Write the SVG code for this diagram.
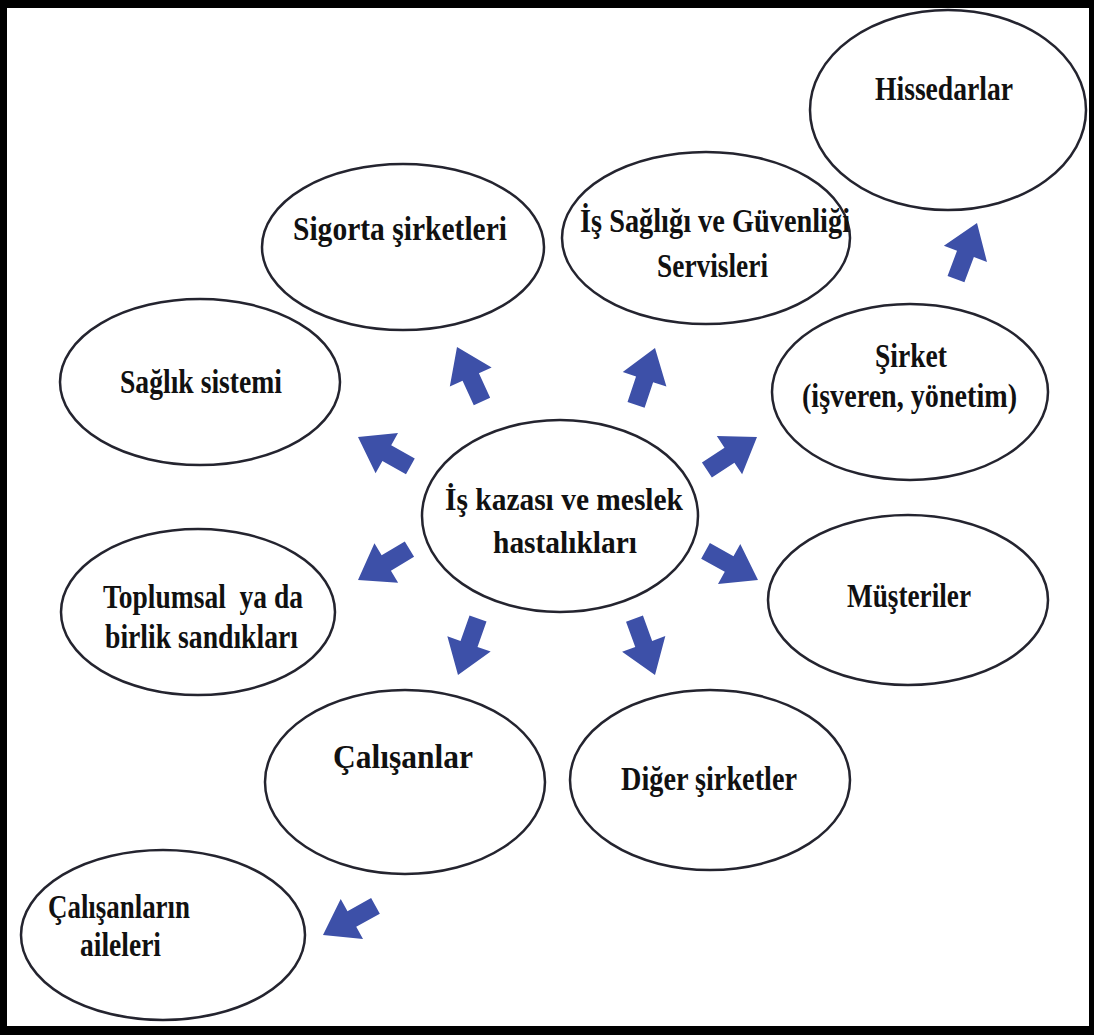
<svg xmlns="http://www.w3.org/2000/svg" xmlns:xlink="http://www.w3.org/1999/xlink" width="1094" height="1035" viewBox="0 0 1094 1035">
  <style>
    .node ellipse { fill: #ffffff; stroke: #24242f; stroke-width: 2.5; }
    .node text { font-family: "Liberation Serif", "Times New Roman", serif; font-weight: bold; font-size: 33px; fill: #111111; }
    .node text.mid { font-size: 31px; }
    .arrow { fill: #3d50a8; }
  </style>
  <defs>
    <!-- block arrow pointing along +x, tip at the origin -->
    <path id="blockArrow" d="M0,0 L-33,-23 L-33,-9 L-60,-9 L-60,9 L-33,9 L-33,23 Z"/>
  </defs>

  <!-- frame -->
  <rect x="0" y="0" width="1094" height="1035" fill="#000000"/>
  <rect x="7" y="8" width="1082" height="1018" fill="#ffffff"/>

  <g id="connectors">
    <use xlink:href="#blockArrow" class="arrow" transform="translate(457,347) rotate(-114.6)"/>
    <use xlink:href="#blockArrow" class="arrow" transform="translate(655,348) rotate(-71.6)"/>
    <use xlink:href="#blockArrow" class="arrow" transform="translate(358,437) rotate(-150.8)"/>
    <use xlink:href="#blockArrow" class="arrow" transform="translate(757,437) rotate(-33.4)"/>
    <use xlink:href="#blockArrow" class="arrow" transform="translate(358,580) rotate(149)"/>
    <use xlink:href="#blockArrow" class="arrow" transform="translate(758,580) rotate(29)"/>
    <use xlink:href="#blockArrow" class="arrow" transform="translate(458,675) rotate(109.5)"/>
    <use xlink:href="#blockArrow" class="arrow" transform="translate(655,675) rotate(70)"/>
    <use xlink:href="#blockArrow" class="arrow" transform="translate(977,223) rotate(-69.5)"/>
    <use xlink:href="#blockArrow" class="arrow" transform="translate(323,935) rotate(151)"/>
  </g>

  <g id="node-hissedarlar" class="node">
    <ellipse cx="948" cy="110" rx="138" ry="100"/>
    <text x="875" y="100" textLength="138" lengthAdjust="spacingAndGlyphs">Hissedarlar</text>
  </g>

  <g id="node-sigorta" class="node">
    <ellipse cx="403" cy="247" rx="141" ry="83"/>
    <text x="293" y="240" textLength="214" lengthAdjust="spacingAndGlyphs">Sigorta şirketleri</text>
  </g>

  <g id="node-isg" class="node">
    <ellipse cx="706" cy="238" rx="144" ry="86"/>
    <text x="580" y="232" textLength="270" lengthAdjust="spacingAndGlyphs">İş Sağlığı ve Güvenliği</text>
    <text x="657" y="277" textLength="111" lengthAdjust="spacingAndGlyphs">Servisleri</text>
  </g>

  <g id="node-saglik" class="node">
    <ellipse cx="200" cy="382" rx="140" ry="83"/>
    <text x="120" y="393" textLength="162" lengthAdjust="spacingAndGlyphs">Sağlık sistemi</text>
  </g>

  <g id="node-sirket" class="node">
    <ellipse cx="910" cy="392" rx="138" ry="88"/>
    <text x="875" y="367" textLength="72" lengthAdjust="spacingAndGlyphs">Şirket</text>
    <text x="802" y="407" textLength="215" lengthAdjust="spacingAndGlyphs">(işveren, yönetim)</text>
  </g>

  <g id="node-merkez" class="node">
    <ellipse cx="560" cy="516" rx="138" ry="96"/>
    <text class="mid" x="445" y="510" textLength="238" lengthAdjust="spacingAndGlyphs">İş kazası ve meslek</text>
    <text class="mid" x="493" y="553" textLength="144" lengthAdjust="spacingAndGlyphs">hastalıkları</text>
  </g>

  <g id="node-toplumsal" class="node">
    <ellipse cx="198" cy="612" rx="137" ry="83"/>
    <text x="103" y="608" textLength="200" lengthAdjust="spacingAndGlyphs" xml:space="preserve">Toplumsal  ya da</text>
    <text x="105" y="648" textLength="193" lengthAdjust="spacingAndGlyphs">birlik sandıkları</text>
  </g>

  <g id="node-musteriler" class="node">
    <ellipse cx="908" cy="600" rx="140" ry="85"/>
    <text x="847" y="607" textLength="124" lengthAdjust="spacingAndGlyphs">Müşteriler</text>
  </g>

  <g id="node-calisanlar" class="node">
    <ellipse cx="405" cy="782" rx="140" ry="92"/>
    <text x="333" y="768" textLength="140" lengthAdjust="spacingAndGlyphs">Çalışanlar</text>
  </g>

  <g id="node-diger" class="node">
    <ellipse cx="710" cy="780" rx="140" ry="90"/>
    <text x="621" y="790" textLength="176" lengthAdjust="spacingAndGlyphs">Diğer şirketler</text>
  </g>

  <g id="node-aileler" class="node">
    <ellipse cx="163" cy="935" rx="142" ry="85"/>
    <text x="48" y="918" textLength="142" lengthAdjust="spacingAndGlyphs">Çalışanların</text>
    <text x="80" y="956" textLength="81" lengthAdjust="spacingAndGlyphs">aileleri</text>
  </g>
</svg>
